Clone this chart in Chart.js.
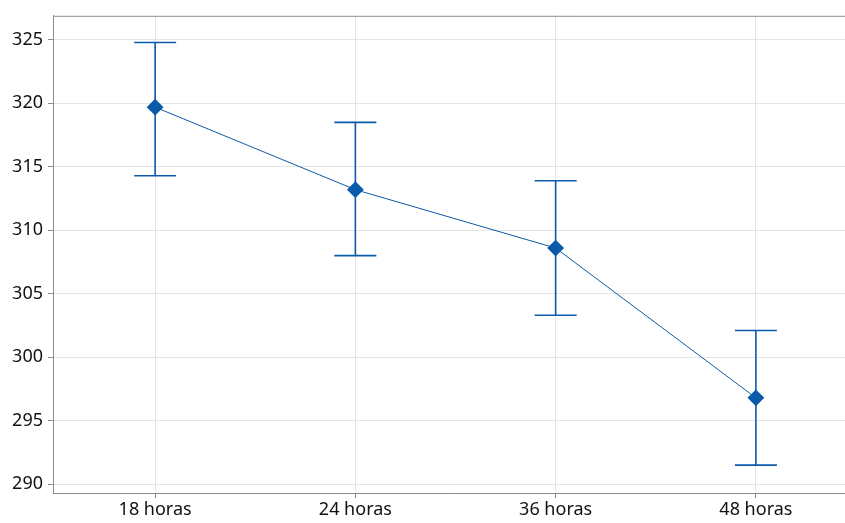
<!DOCTYPE html>
<html>
<head>
<meta charset="utf-8">
<script src="https://cdn.jsdelivr.net/npm/chart.js@4/dist/chart.umd.min.js"></script>
<style>
  html, body { margin: 0; padding: 0; background: #fff; }
  #wrap { width: 845px; height: 523px; }
</style>
</head>
<body>
<div id="wrap"><canvas id="chart" width="845" height="523"></canvas></div>
<script>
// categories and values
let labels = ["18 horas", "24 horas", "36 horas", "48 horas"];
let means = [319.7, 313.2, 308.6, 296.8];
let upper = [324.8, 318.5, 313.9, 302.1];
let lower = [314.3, 308.0, 303.3, 291.5];
let yTicks = [290, 295, 300, 305, 310, 315, 320, 325];

let blue = "#0b5aaa";

// draw the error bars through the chart scales
let errorBars = {
  id: "errorBars",
  beforeDatasetsDraw(chart) {
    let ctx = chart.ctx;
    let xs = chart.scales.x;
    let ys = chart.scales.y;
    ctx.save();
    ctx.strokeStyle = blue;
    ctx.lineWidth = 1.6;
    for (let i = 0; i < means.length; i++) {
      let x = xs.getPixelForValue(i);
      let top = ys.getPixelForValue(upper[i]);
      let bot = ys.getPixelForValue(lower[i]);
      ctx.beginPath();
      ctx.moveTo(x, top);
      ctx.lineTo(x, bot);
      ctx.moveTo(x - 21, top);
      ctx.lineTo(x + 21, top);
      ctx.moveTo(x - 21, bot);
      ctx.lineTo(x + 21, bot);
      ctx.stroke();
    }
    ctx.restore();
  }
};

// frame line on top of the plot
let frame = {
  id: "frame",
  afterDraw(chart) {
    let a = chart.chartArea;
    let ctx = chart.ctx;
    ctx.save();
    ctx.strokeStyle = "#8c8c8c";
    ctx.lineWidth = 1;
    ctx.beginPath();
    ctx.moveTo(a.left, a.top + 0.5);
    ctx.lineTo(a.right, a.top + 0.5);
    ctx.stroke();
    ctx.restore();
  }
};

let points = means.map((v, i) => ({ x: i, y: v }));

new Chart(document.getElementById("chart"), {
  type: "line",
  data: {
    datasets: [{
      data: points,
      borderColor: blue,
      backgroundColor: blue,
      borderWidth: 1,
      pointStyle: "rectRot",
      pointRadius: 7,
      pointBorderWidth: 2,
      pointBorderColor: blue,
      pointBackgroundColor: blue
    }]
  },
  options: {
    responsive: false,
    animation: false,
    layout: { autoPadding: false, padding: { top: 15, right: 0, left: 0, bottom: 0 } },
    plugins: {
      legend: { display: false },
      tooltip: { enabled: false }
    },
    scales: {
      x: {
        type: "linear",
        min: -0.51,
        max: 3.445,
        afterBuildTicks: (s) => { s.ticks = labels.map((l, i) => ({ value: i })); },
        afterFit: (s) => { s.height = 30; },
        ticks: {
          callback: (v) => labels[v],
          color: "#111",
          font: { family: "Noto Sans", size: 18 },
          padding: 1,
          maxRotation: 0
        },
        grid: { color: "#e4e4e4", tickColor: "#8c8c8c", tickLength: 5 },
        border: { color: "#8c8c8c", width: 1 }
      },
      y: {
        min: 289.3,
        max: 326.9,
        afterBuildTicks: (s) => { s.ticks = yTicks.map((v) => ({ value: v })); },
        afterFit: (s) => { s.width = 53; },
        ticks: {
          color: "#111",
          font: { family: "Noto Sans", size: 18 },
          padding: 5
        },
        grid: { color: "#e4e4e4", tickColor: "#8c8c8c", tickLength: 5 },
        border: { color: "#8c8c8c", width: 1 }
      }
    }
  },
  plugins: [errorBars, frame]
});
</script>
</body>
</html>
